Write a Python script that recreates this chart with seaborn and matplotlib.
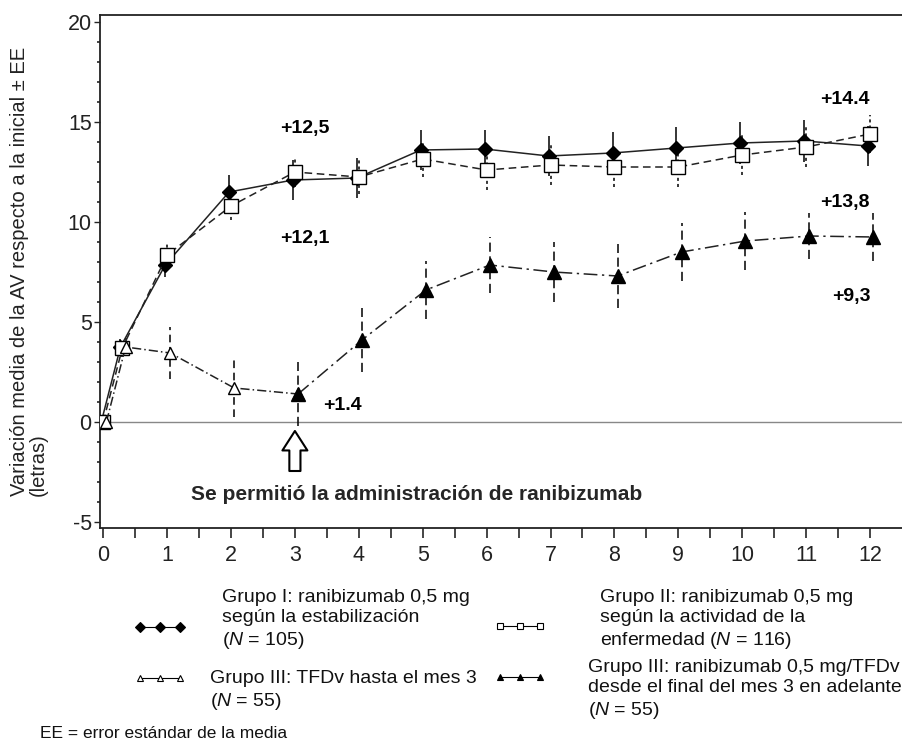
import numpy as np
import pandas as pd
import seaborn as sns
import matplotlib.pyplot as plt
from matplotlib.lines import Line2D

# months (first visit read at ~0.3 month)
months = [0, 0.3, 1, 2, 3, 4, 5, 6, 7, 8, 9, 10, 11, 12]
g1_mean = [0, 3.75, 7.85, 11.5, 12.1, 12.2, 13.6, 13.65, 13.3, 13.45, 13.7, 13.95, 14.05, 13.8]
g1_se = [0, 0.4, 0.6, 0.85, 1.0, 1.0, 1.0, 0.95, 1.0, 1.05, 1.05, 1.05, 1.05, 1.0]
g2_mean = [0, 3.7, 8.35, 10.8, 12.5, 12.25, 13.15, 12.6, 12.85, 12.75, 12.75, 13.35, 13.75, 14.4]
g2_se = [0, 0.45, 0.55, 0.7, 0.75, 0.85, 0.9, 1.0, 1.0, 1.0, 1.0, 1.0, 1.0, 0.95]
g3a_months = [0, 0.3, 1, 2, 3]
g3a_mean = [0, 3.75, 3.45, 1.7, 1.4]
g3a_se = [0, 0.45, 1.3, 1.45, 0]
g3b_months = [3, 4, 5, 6, 7, 8, 9, 10, 11, 12]
g3b_mean = [1.4, 4.1, 6.6, 7.85, 7.5, 7.3, 8.5, 9.05, 9.3, 9.25]
g3b_se = [1.6, 1.6, 1.45, 1.4, 1.5, 1.6, 1.45, 1.45, 1.15, 1.2]

W, H = 902, 740
sns.set_style("white")
plt.rcParams['font.family'] = ['Liberation Sans', 'DejaVu Sans']
plt.rcParams['mathtext.fontset'] = 'custom'
plt.rcParams['mathtext.it'] = 'Liberation Sans:italic'
plt.rcParams['mathtext.rm'] = 'Liberation Sans'
plt.rcParams['axes.unicode_minus'] = False

fig = plt.figure(figsize=(W / 100, H / 100), dpi=100)
ax = fig.add_axes([100 / W, 1 - 528 / H, 1 - 100 / W, (528 - 15) / H])


def px(x, y):
    return (x / W, 1 - y / H)


series = [
    # months, mean, se, dodge, marker, mfc, ms, line dash, errorbar dash
    (months, g1_mean, g1_se, -0.03, 'D', 'black', 7.5, '-', '-'),
    (months, g2_mean, g2_se, 0.0, 's', 'white', 9.5, (0, (5, 3)), (0, (2, 2))),
    (g3a_months, g3a_mean, g3a_se, 0.05, '^', 'white', 9, (0, (6, 2, 1, 2)), (0, (5, 3))),
    (g3b_months, g3b_mean, g3b_se, 0.05, '^', 'black', 9.5, (0, (9, 3, 1.5, 3)), (0, (6, 3))),
]

ax.axhline(0, color='#888888', lw=1, zorder=1)

for mo, mean, se, dx, mk, mfc, ms, ls, els in series:
    df = pd.DataFrame({'month': np.array(mo) + dx, 'mean': mean, 'se': se})
    ax.vlines(df['month'], df['mean'] - df['se'], df['mean'] + df['se'],
              colors='black', linestyles=els, lw=1.1, zorder=2)
    sns.lineplot(data=df, x='month', y='mean', ax=ax, color='#222222', lw=1.1,
                 linestyle=ls, marker=mk, markersize=ms, markerfacecolor=mfc,
                 markeredgecolor='black', markeredgewidth=1.0, zorder=3)

ax.set_xlim(-0.05, 12.5)
ax.set_ylim(-5.3, 20.35)
ax.set_xticks(range(0, 13))
ax.set_xticks(np.arange(0.5, 12.5, 1), minor=True)
ax.set_yticks([-5, 0, 5, 10, 15, 20])
ax.set_yticks(np.arange(-5, 21, 1), minor=True)
ax.tick_params(axis='x', which='both', direction='out', length=7, width=1.2,
               bottom=True, labelsize=15.5, pad=5, labelcolor='#222222')
ax.tick_params(axis='y', which='major', direction='out', length=4, width=1,
               left=True, labelsize=15.5, pad=2, labelcolor='#222222')
ax.tick_params(axis='y', which='minor', direction='out', length=2, width=1.2, left=True)
for s in ['left', 'top', 'bottom']:
    ax.spines[s].set_color('#222222')
    ax.spines[s].set_linewidth(1.3)
ax.spines['right'].set_visible(False)
ax.set_xlabel('')
ax.set_ylabel('Variación media de la AV respecto a la inicial ± EE\n(letras)',
              fontsize=14.5, color='#222222', multialignment='left', linespacing=1.0)
ax.yaxis.set_label_coords(-0.065, 0.5)

bold = dict(fontsize=14, fontweight='bold', color='black')
ax.text(3.15, 14.7, '+12,5', ha='center', va='center', **bold)
ax.text(3.15, 9.2, '+12,1', ha='center', va='center', **bold)
ax.text(11.6, 16.1, '+14.4', ha='center', va='center', **bold)
ax.text(11.6, 10.95, '+13,8', ha='center', va='center', **bold)
ax.text(11.7, 6.3, '+9,3', ha='center', va='center', **bold)
ax.text(3.75, 0.85, '+1.4', ha='center', va='center', **bold)

ax.annotate('', xy=(3.0, -0.45), xytext=(3.0, -2.45),
            arrowprops=dict(arrowstyle='simple,head_width=0.9,head_length=0.7,tail_width=0.4',
                            fc='white', ec='black', lw=1.5, mutation_scale=20,
                            shrinkA=0, shrinkB=0))
ax.text(4.9, -3.6, 'Se permitió la administración de ranibizumab',
        ha='center', va='center', fontsize=15, fontweight='bold')

# legend drawn below the axes
leg_font = 14
legend_items = [
    ((140, 180, 627), 'D', 'black', (222, 620),
     'Grupo I: ranibizumab 0,5 mg\nsegún la estabilización\n($N$ = 105)'),
    ((500, 540, 626), 's', 'white', (600, 620),
     'Grupo II: ranibizumab 0,5 mg\nsegún la actividad de la\nenfermedad ($N$ = 116)'),
    ((140, 180, 678), '^', 'white', (210, 691),
     'Grupo III: TFDv hasta el mes 3\n($N$ = 55)'),
    ((500, 540, 677), '^', 'black', (588, 690),
     'Grupo III: ranibizumab 0,5 mg/TFDv\ndesde el final del mes 3 en adelante\n($N$ = 55)'),
]
for (x0, x1, y), mk, mfc, (tx, ty), label in legend_items:
    xs = np.linspace(x0, x1, 3)
    fx = [px(v, y)[0] for v in xs]
    fy = [px(v, y)[1] for v in xs]
    fig.add_artist(Line2D(fx, fy, transform=fig.transFigure, color='black', lw=0.8,
                          marker=mk, markersize=5, markerfacecolor=mfc,
                          markeredgecolor='black', markeredgewidth=0.8))
    fig.text(*px(tx, ty), label, ha='left', va='center', fontsize=leg_font,
             linespacing=1.22, color='#111111')

fig.text(*px(40, 733), 'EE = error estándar de la media', ha='left', va='center',
         fontsize=12.5, color='#111111')

fig.savefig('out.png', dpi=100)
